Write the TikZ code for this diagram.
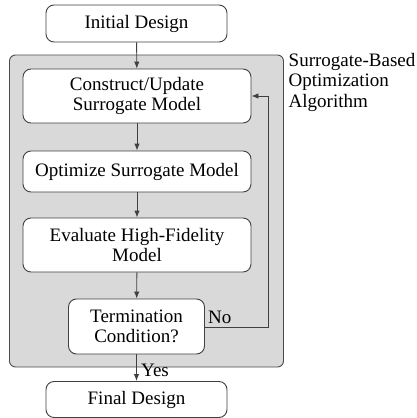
\documentclass[tikz,border=0pt]{standalone}
\usepackage{fontspec}
\setmainfont{Liberation Serif}
\usetikzlibrary{arrows.meta}
\begin{document}
\begin{tikzpicture}[x=1pt,y=-1pt,
  every node/.style={font=\fontsize{19}{20.5}\selectfont},
  stepbox/.style={draw=black!75, line width=0.9pt, fill=white, rounded corners=8pt,
    align=center, inner sep=0pt},
  flow/.style={draw=black!75, line width=0.9pt, -{Latex[length=7pt,width=5.5pt]}}]
  \useasboundingbox (0,0) rectangle (417,418);
  % optimisation loop enclosure
  \draw[draw=black!70, line width=0.9pt, fill=black!15, rounded corners=6pt]
    (9.5,55) rectangle (283.5,367);
  \node[anchor=north west, align=left, inner sep=0pt] (lbl) at (288.5,53)
    {Surrogate-Based\\Optimization\\Algorithm};
  % process steps
  \node[stepbox, minimum width=181pt, minimum height=37pt] (init) at (136.5,23.5) {Initial Design};
  \node[stepbox, minimum width=228pt, minimum height=54pt] (cons) at (137,96) {Construct/Update\\Surrogate Model};
  \node[stepbox, minimum width=228pt, minimum height=41pt] (opt) at (137,171.5) {Optimize Surrogate Model};
  \node[stepbox, minimum width=228pt, minimum height=54pt] (eval) at (137,245) {Evaluate High-Fidelity\\Model};
  \node[stepbox, minimum width=136pt, minimum height=55pt] (term) at (136.5,326.5) {Termination\\Condition?};
  \node[stepbox, minimum width=181pt, minimum height=36pt] (final) at (136.5,399.5) {Final Design};
  \coordinate (lb) at (268,327);
  \coordinate (lt) at (268,96);
  % connectors
  \draw[flow] (init) -- (cons);
  \draw[flow] (cons) -- (opt);
  \draw[flow] (opt) -- (eval);
  \draw[flow] (eval) -- (term);
  \draw[flow] (term) -- (final);
  \draw[flow] (term.east |- lb) -- (lb) -- (lt) -- (cons.east |- lt);
  \node[anchor=south west, inner sep=0pt] (no) at (208,324) {No};
  \node[anchor=south west, inner sep=0pt] (yes) at (141,377) {Yes};
\end{tikzpicture}
\end{document}
